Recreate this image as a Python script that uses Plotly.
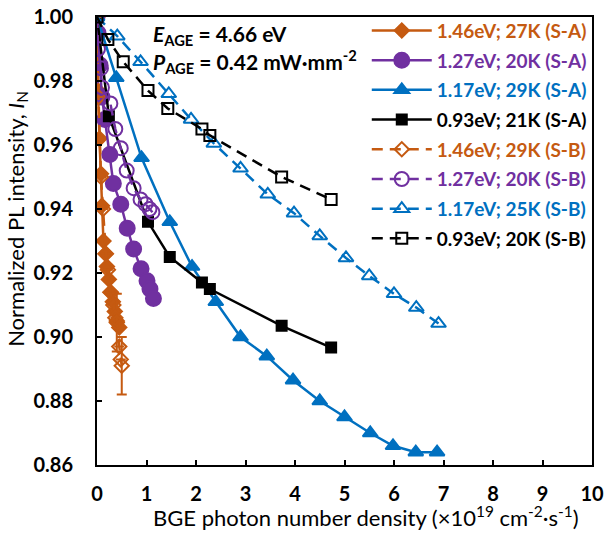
import plotly.graph_objects as go

ORANGE = "#C55A11"
PURPLE = "#7030A0"
BLUE = "#0070C0"
BLACK = "#000000"

# 1.46eV S-A (filled diamonds)
x_146A = [0, 0.02, 0.05, 0.08, 0.1, 0.13, 0.17, 0.2, 0.24, 0.28, 0.32, 0.36, 0.4, 0.45]
y_146A = [1.0, 0.977, 0.962, 0.951, 0.941, 0.930, 0.926, 0.922, 0.918, 0.914, 0.911, 0.908, 0.905, 0.903]
# 1.46eV S-B (open diamonds)
x_146B = [0, 0.03, 0.08, 0.12, 0.18, 0.22, 0.27, 0.33, 0.37, 0.4, 0.45, 0.48, 0.5]
y_146B = [1.0, 0.975, 0.95, 0.94, 0.926, 0.921, 0.914, 0.910, 0.906, 0.9045, 0.897, 0.893, 0.891]
e_146B = [0, 0, 0, 0, 0, 0, 0, 0, 0, 0.009, 0, 0, 0.009]

# 1.27eV S-A (filled circles)
x_127A = [0, 0.02, 0.06, 0.1, 0.16, 0.26, 0.33, 0.48, 0.61, 0.74, 0.89, 1.01, 1.07, 1.14]
y_127A = [1.0, 0.995, 0.985, 0.975, 0.968, 0.957, 0.948, 0.9415, 0.934, 0.9275, 0.9213, 0.9176, 0.915, 0.912]
# 1.27eV S-B (open circles)
x_127B = [0, 0.02, 0.08, 0.1, 0.27, 0.37, 0.48, 0.6, 0.74, 0.88, 0.98, 1.06, 1.12]
y_127B = [1.0, 0.99, 0.984, 0.978, 0.973, 0.965, 0.959, 0.952, 0.9465, 0.943, 0.9415, 0.940, 0.939]

# 1.17eV S-A (filled triangles)
x_117A = [0, 0.39, 0.9, 1.47, 1.92, 2.4, 2.9, 3.43, 3.96, 4.5, 5.0, 5.52, 5.98, 6.44, 6.87]
y_117A = [1.0, 0.981, 0.956, 0.936, 0.922, 0.911, 0.900, 0.894, 0.8865, 0.880, 0.875, 0.870, 0.866, 0.864, 0.864]
# 1.17eV S-B (open triangles)
x_117B = [0, 0.41, 0.88, 1.45, 1.9, 2.36, 2.9, 3.45, 3.98, 4.5, 5.03, 5.5, 6.0, 6.45, 6.9]
y_117B = [1.0, 0.994, 0.986, 0.976, 0.968, 0.9605, 0.9527, 0.9446, 0.9387, 0.9316, 0.9247, 0.9191, 0.9135, 0.9092, 0.9042]

# 0.93eV S-A (filled squares)
x_093A = [0, 0.24, 1.03, 1.47, 2.12, 2.28, 3.73, 4.73]
y_093A = [1.0, 0.969, 0.936, 0.925, 0.917, 0.915, 0.9035, 0.8967]
# 0.93eV S-B (open squares)
x_093B = [0, 0.22, 0.53, 1.03, 1.43, 2.12, 2.28, 3.73, 4.73]
y_093B = [1.0, 0.993, 0.986, 0.977, 0.9714, 0.965, 0.963, 0.950, 0.943]

FONT = "Lato"

def nm(txt, col):
    return f'<span style="color:{col}"><b>{txt}</b></span>'

series = [
    (x_146A, y_146A, None, ORANGE, "diamond", 11, "solid", "1.46eV; 27K (S-A)"),
    (x_127A, y_127A, None, PURPLE, "circle", 15, "solid", "1.27eV; 20K (S-A)"),
    (x_117A, y_117A, None, BLUE, "triangle-up", 13, "solid", "1.17eV; 29K (S-A)"),
    (x_093A, y_093A, None, BLACK, "square", 10, "solid", "0.93eV; 21K (S-A)"),
    (x_146B, y_146B, e_146B, ORANGE, "diamond-open", 11, "11px,7px", "1.46eV; 29K (S-B)"),
    (x_127B, y_127B, None, PURPLE, "circle-open", 14, "11px,7px", "1.27eV; 20K (S-B)"),
    (x_117B, y_117B, None, BLUE, "triangle-up-open", 13, "11px,7px", "1.17eV; 25K (S-B)"),
    (x_093B, y_093B, None, BLACK, "square-open", 11, "11px,7px", "0.93eV; 20K (S-B)"),
]

fig = go.Figure()
for i, (xs, ys, es, col, sym, sz, dash, name) in enumerate(series):
    kw = {}
    if es is not None:
        kw["error_y"] = dict(type="data", array=es, visible=True, color=col, thickness=2, width=5)
    fig.add_trace(go.Scatter(
        x=xs, y=ys, mode="lines+markers", name=nm(name, col),
        legendgroup=f"g{i}",
        line=dict(color=col, width=2.5, dash=dash),
        marker=dict(symbol=sym, size=sz, color=col, line=dict(color=col, width=2)),
        **kw))

fig.update_layout(
    width=606, height=533,
    margin=dict(l=97, r=14, t=15, b=68),
    paper_bgcolor="white", plot_bgcolor="white",
    font=dict(family=FONT, size=19, color="black"),
    showlegend=True,
    legend=dict(x=0.545, y=1.012, xanchor="left", yanchor="top",
                bgcolor="rgba(0,0,0,0)", font=dict(family=FONT, size=19),
                tracegroupgap=2, itemwidth=60),
    xaxis=dict(range=[0, 10], dtick=1, ticks="inside", ticklen=5, tickwidth=1.5,
               tickcolor="black", showline=True, linecolor="black", linewidth=2,
               mirror=True, showgrid=False, zeroline=False, automargin=False,
               ticklabelstandoff=10,
               tickfont=dict(family=FONT, size=20, color="black", weight="bold")),
    yaxis=dict(range=[0.86, 1.0], dtick=0.02, tickformat=".2f", ticks="inside", ticklen=5,
               tickwidth=1.5, tickcolor="black", showline=True, linecolor="black",
               linewidth=2, mirror=True, showgrid=False, zeroline=False, automargin=False,
               ticklabelstandoff=18,
               tickfont=dict(family=FONT, size=20, color="black", weight="bold")),
    annotations=[
        dict(x=0.11, y=0.96, xref="paper", yref="paper", xanchor="left", yanchor="middle",
             showarrow=False, text="<b><i>E</i><sub>AGE</sub> = 4.66 eV</b>",
             font=dict(family=FONT, size=21, color="black")),
        dict(x=0.11, y=0.90, xref="paper", yref="paper", xanchor="left", yanchor="middle",
             showarrow=False, text="<b><i>P</i><sub>AGE</sub> = 0.42 mW·mm<sup>-2</sup></b>",
             font=dict(family=FONT, size=21, color="black")),
        dict(x=0.543, y=-0.115, xref="paper", yref="paper", xanchor="center", yanchor="middle",
             showarrow=False,
             text="BGE photon number density (×10<sup>19</sup> cm<sup>-2</sup>·s<sup>-1</sup>)",
             font=dict(family=FONT, size=22, color="black")),
        dict(x=-0.162, y=0.549, xref="paper", yref="paper", xanchor="center", yanchor="middle",
             showarrow=False, textangle=-90,
             text="Normalized PL intensity, <i>I</i><sub>N</sub>",
             font=dict(family=FONT, size=22, color="black")),
    ],
)

fig.write_html("out.html")
